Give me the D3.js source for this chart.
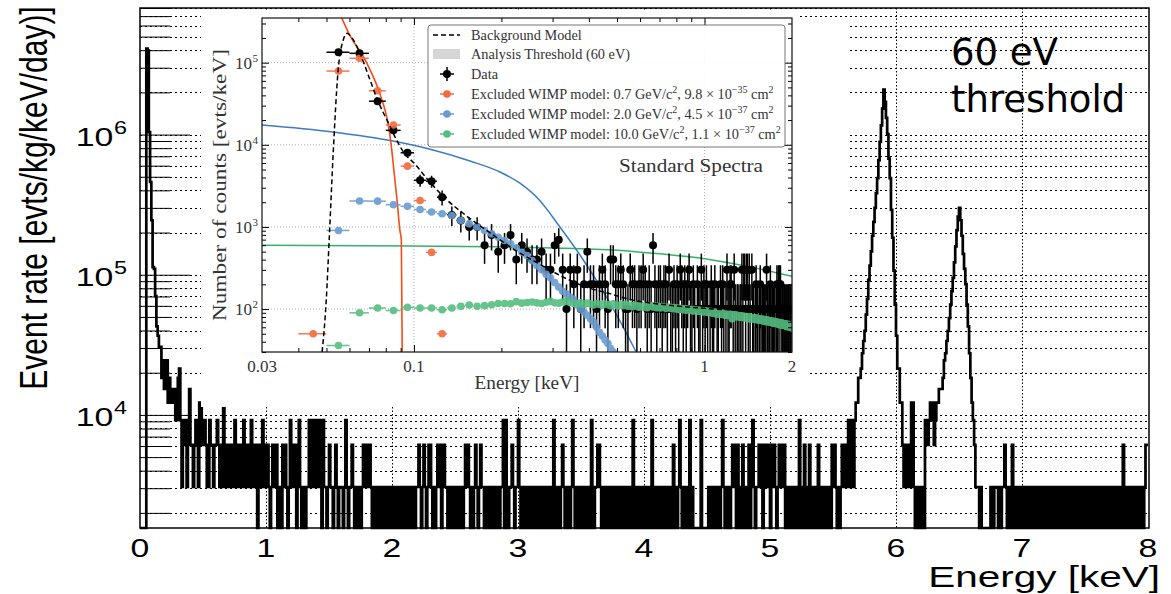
<!DOCTYPE html>
<html>
<head>
<meta charset="utf-8">
<script src="https://cdn.jsdelivr.net/npm/d3@7"></script>
<style>
body { margin: 0; background: #fff; }
svg { display: block; }
</style>
</head>
<body>
<svg id="chart" width="1171" height="594"></svg>
<script>
// ---------- data ----------
var binWidth = 0.01;      // keV
var countRate = 3060;     // evts/kg/keV/day for one count in a bin (main plot)
var countDensity = 100;   // evts/keV for one count in a bin (inset)

// counts per 0.01 keV bin
var thresholdCounts = [0, 0, 0, 0, 0];                                  // 0.00 - 0.04
var noiseCounts = [1340, 1300, 340, 150, 80, 37, 36, 23, 14, 12,
	10, 10, 6, 8, 5, 6, 8, 4, 6, 5, 4, 4, 5, 3, 3];                      // 0.05 - 0.29
var flatCounts = [                                                      // 0.30 - 5.59, one row per 0.1 keV
	"6731323125", "2212321442", "2321132212", "2321216212", "2122131121",
	"2132121231", "1210211312", "1210121120", "1102121013", "1122013101",
	"1011313313", "3131031101", "2110121011", "1013101121", "0110101212",
	"1221011011", "0110110110", "1011010110", "0101101001", "1210121012",
	"2101012210", "2211010101", "1010110121", "2101012101", "2110101011",
	"0101101130", "3101121011", "3101010110", "1010110101", "0110101031",
	"0110121010", "1013101101", "0110101031", "0112210101", "1010110101",
	"0101101010", "1301010110", "1010103101", "0101101010", "1012010131",
	"0101013010", "0000030000", "0101101011", "0131010101", "2120210120",
	"1012013101", "1212012121", "0212101212", "1201010101", "1013010210",
	"1201010120", "1010110102", "1210101212"
];
var kaCounts = [2, 1, 3, 2, 1, 3, 1, 3, 4, 4,                            // 5.60 - 6.09
	6, 6, 7, 9, 11, 13, 17, 22, 30, 38,
	48, 62, 78, 98, 125, 160, 215, 290, 380, 500,
	685, 560, 430, 330, 220, 160, 95, 60, 35, 20,
	12, 7, 7, 4, 4, 2, 1, 2, 1, 2];
var gapCounts = "21441010010103323434";                                  // 6.10 - 6.29
var kbCounts = [2, 3, 4, 4, 5, 5, 5, 6, 8, 9,                            // 6.30 - 6.64
	11, 13, 16, 20, 25, 31, 40, 52, 68, 85,
	98, 80, 62, 46, 36, 28, 20, 14, 9, 6,
	4, 3, 2, 1, 1];
var tailCounts = ["10100",                                               // 6.65 - 7.99
	"0000011011", "1010112101", "1021010110", "1010101101", "0101101010",
	"1101010110", "1010110101", "0110101011", "0101010101", "1011010101",
	"0101011010", "2101010110", "1010110122"];

// inset model points (evts/keV), 0.01 keV bins
var wimpLowStart = 0.04;
var wimpLowRate = [50, 79000, 113000, 45500, 17400, 5500, 2100, 490, 50];
var wimpMidStart = 0.05;
var wimpMidRate = [906, 2070, 2060, 1860, 1780, 1630, 1520, 1450, 1380, 1200,
	1090, 1000, 906, 824, 750, 683, 622, 556, 492, 448,
	389, 338, 300, 265, 240, 210, 185, 165, 152, 140,
	130, 112, 100, 92, 84, 76, 70, 60, 52, 47,
	42, 38, 33, 30];
var wimpHighStart = 0.05;
var wimpHighRate = [36, 90, 103, 96, 105, 103, 103, 98, 103, 108,
	112, 108, 110, 113, 117, 117, 116, 123, 118, 120,
	122, 119, 117, 121, 124, 119, 118, 122, 125, 120,
	117, 115, 119, 114, 118, 116, 112, 117, 114, 111,
	115, 113, 110, 116, 112, 109, 113, 110, 114, 108,
	111, 107, 112, 109, 105, 110, 106, 109, 104, 108,
	110, 106, 109, 104, 108, 103, 107, 105, 102, 106,
	103, 105, 101, 104, 100, 103, 99, 102, 100, 98,
	101, 97, 100, 98, 96, 99, 95, 98, 96, 94,
	97, 95, 93, 96, 92, 95, 94, 91, 94, 92,
	93, 89, 92, 88, 91, 87, 90, 86, 90, 87,
	89, 85, 88, 84, 87, 84, 87, 83, 86, 76,
	86, 82, 85, 81, 84, 80, 83, 80, 83, 79,
	82, 79, 81, 78, 81, 77, 80, 76, 80, 76,
	79, 76, 78, 75, 78, 74, 77, 74, 76, 73,
	76, 73, 75, 72, 75, 71, 74, 70, 74, 70,
	73, 70, 72, 69, 72, 68, 71, 67, 71, 67,
	70, 67, 69, 66, 69, 65, 68, 64, 68, 64,
	67, 64, 66, 63, 66, 62, 65, 61, 65, 61,
	64, 61, 63, 60, 63, 59, 62, 59, 61, 58];

// inset model curves [keV, evts/keV]
var backgroundModel = [[0.0483, 30], [0.0499, 126], [0.0512, 824], [0.0528, 8600], [0.0548, 78000],
	[0.0571, 189000], [0.0589, 228000], [0.0608, 207000], [0.0652, 130000], [0.070, 67000],
	[0.075, 35000], [0.0818, 18200], [0.0872, 11400], [0.0929, 7800], [0.1005, 5900],
	[0.112, 3700], [0.127, 2300], [0.1535, 1320], [0.185, 824], [0.224, 516], [0.27, 355],
	[0.327, 244], [0.394, 184], [0.475, 153], [0.574, 127], [0.7, 115], [1.0, 102], [1.5, 95], [2.0, 90]];
var wimpLowCurve = [[0.054, 500000], [0.06, 220000], [0.0687, 100000], [0.0763, 42000], [0.0815, 18000],
	[0.0835, 10000], [0.0855, 4500], [0.0875, 2100], [0.0895, 900], [0.0905, 700], [0.0912, 20]];
var wimpMidCurve = [[0.03, 17400], [0.0526, 14300], [0.0846, 11100], [0.1163, 8650], [0.156, 6350],
	[0.1977, 4670], [0.231, 3430], [0.27, 2130], [0.318, 998], [0.3786, 419], [0.4623, 136],
	[0.5771, 31.7], [0.624, 18]];
var wimpHighCurve = [[0.03, 600], [0.1, 585], [0.3, 555], [0.5, 520], [0.7, 470], [1.0, 410], [1.5, 315], [2.0, 250]];

var xMainTicks = [0, 1, 2, 3, 4, 5, 6, 7, 8];
var yMainTicks = [1e4, 1e5, 1e6];
var xInsetLabels = [0.03, 0.1, 1, 2];
var yInsetTicks = [1e2, 1e3, 1e4, 1e5];

var legendLabels = [
	['Background Model'],
	['Analysis Threshold (60 eV)'],
	['Data'],
	['Excluded WIMP model: 0.7 GeV/c', '^2', ', 9.8 \u00d7 10', '^\u221235', ' cm', '^2'],
	['Excluded WIMP model: 2.0 GeV/c', '^2', ', 4.5 \u00d7 10', '^\u221237', ' cm', '^2'],
	['Excluded WIMP model: 10.0 GeV/c', '^2', ', 1.1 \u00d7 10', '^\u221237', ' cm', '^2']
];

var orangeLine = '#f64a17', orangeDot = '#f36a3c';
var blueLine = '#3b7cc0', blueDot = '#6a9bcf';
var greenLine = '#35b26a', greenDot = '#55bd80';

function digits(rows) {
	return rows.join('').split('').map(Number);
}

var counts = [].concat(thresholdCounts, noiseCounts, digits(flatCounts), kaCounts,
	digits([gapCounts]), kbCounts, digits(tailCounts));

// ---------- main plot ----------
var svg = d3.select('#chart');
var sans = '"Liberation Sans", Arial, sans-serif';
var serif = '"Liberation Serif", "Times New Roman", serif';

var xMain = d3.scaleLinear().domain([0, 8]).range([140, 1148]);
var yMain = d3.scaleLog().domain([1560, 8.0e6]).range([528, 8]);

var yGridVals = [];
var yMinorVals = [];
[1e3, 1e4, 1e5, 1e6].forEach(function(dec) {
	for (var k = 1; k <= 9; k++) {
		var v = k * dec;
		if (v < 1560 || v > 8.0e6) continue;
		yGridVals.push(v);
		if (k > 1) yMinorVals.push(v);
	}
});

// dotted grid
svg.append('g').selectAll('line.hgrid')
	.data(yGridVals)
	.enter().append('line')
	.attr('x1', 140).attr('x2', 1149)
	.attr('y1', function(d) { return Math.round(yMain(d)) + 0.5; })
	.attr('y2', function(d) { return Math.round(yMain(d)) + 0.5; })
	.attr('stroke', '#000').attr('stroke-width', 1).attr('stroke-dasharray', '2,3');

svg.append('g').selectAll('line.vgrid')
	.data(xMainTicks.slice(1, 8))
	.enter().append('line')
	.attr('x1', function(d) { return Math.round(xMain(d)) + 0.5; })
	.attr('x2', function(d) { return Math.round(xMain(d)) + 0.5; })
	.attr('y1', 8).attr('y2', 528)
	.attr('stroke', '#000').attr('stroke-width', 1).attr('stroke-dasharray', '1.5,2');

// tick marks on the left axis
svg.append('g').attr('transform', 'translate(140,0)')
	.call(d3.axisLeft(yMain).tickValues(yMinorVals).tickSize(-30).tickFormat(''))
	.call(function(g) { g.select('.domain').remove(); });
svg.append('g').attr('transform', 'translate(140,0)')
	.call(d3.axisLeft(yMain).tickValues(yMainTicks).tickSize(-50).tickFormat(''))
	.call(function(g) { g.select('.domain').remove(); });

// histogram
var histPts = counts.map(function(c, i) { return [i * binWidth, c]; });
histPts.push([8, counts[counts.length - 1]]);
var histLine = d3.line()
	.x(function(d) { return xMain(d[0]); })
	.y(function(d) { return d[1] > 0 ? yMain(d[1] * countRate) : 528; })
	.curve(d3.curveStepAfter);
svg.append('path')
	.datum(histPts)
	.attr('d', histLine)
	.attr('fill', 'none')
	.attr('stroke', '#000')
	.attr('stroke-width', 2.7)
	.attr('stroke-linejoin', 'miter');

// frame
svg.append('rect')
	.attr('x', 140).attr('y', 8).attr('width', 1009).attr('height', 520)
	.attr('fill', 'none').attr('stroke', '#000').attr('stroke-width', 1.5);

// tick labels
xMainTicks.forEach(function(v) {
	svg.append('g')
		.attr('transform', 'translate(' + xMain(v) + ',557) scale(1.3,1)')
		.append('text')
		.attr('text-anchor', 'middle')
		.style('font-family', sans).style('font-size', '26px')
		.text(v);
});
yMainTicks.forEach(function(v) {
	var g = svg.append('g')
		.attr('transform', 'translate(127,' + (yMain(v) + 11) + ') scale(1.3,1)')
		.style('font-family', sans);
	g.append('text').attr('x', -10.5).attr('text-anchor', 'end').style('font-size', '26px').text('10');
	g.append('text').attr('x', -10).attr('y', -12).style('font-size', '18px').text(Math.round(Math.log10(v)));
});

// axis titles
svg.append('g')
	.attr('transform', 'translate(1160,587) scale(1.35,1)')
	.append('text')
	.attr('text-anchor', 'end')
	.style('font-family', sans).style('font-size', '30px')
	.text('Energy [keV]');
svg.append('g')
	.attr('transform', 'translate(47,198) scale(1.3,1) rotate(-90)')
	.append('text')
	.attr('text-anchor', 'middle')
	.style('font-family', sans).style('font-size', '30px')
	.text('Event rate [evts/kg/keV/day)]');

// annotation
var note = svg.append('text')
	.style('font-family', '"DejaVu Sans", sans-serif').style('font-size', '37px');
note.append('tspan').attr('x', 951).attr('y', 65).text('60 eV');
note.append('tspan').attr('x', 951).attr('y', 112).text('threshold');

// ---------- inset ----------
// white background of the pasted inset
svg.append('rect').attr('x', 201).attr('y', 10).attr('width', 599).attr('height', 397).attr('fill', '#fff');
svg.append('rect').attr('x', 800).attr('y', 20).attr('width', 47).attr('height', 342).attr('fill', '#fff');
svg.append('rect').attr('x', 800).attr('y', 362).attr('width', 7).attr('height', 45).attr('fill', '#fff');

var xIn = d3.scaleLog().domain([0.03, 2]).range([262, 792]);
var yIn = d3.scaleLog().domain([30, 3.5e5]).range([352, 18]);

var inset = svg.append('g');
svg.append('defs').append('clipPath').attr('id', 'insetClip')
	.append('rect').attr('x', 262).attr('y', 18).attr('width', 530).attr('height', 334);

// grid
inset.append('g').selectAll('line')
	.data(yInsetTicks)
	.enter().append('line')
	.attr('x1', 262).attr('x2', 792)
	.attr('y1', function(d) { return yIn(d); }).attr('y2', function(d) { return yIn(d); })
	.attr('stroke', '#b0b0b0').attr('stroke-width', 1).attr('stroke-dasharray', '1,2');
inset.append('g').selectAll('line')
	.data([0.1, 1])
	.enter().append('line')
	.attr('x1', function(d) { return xIn(d); }).attr('x2', function(d) { return xIn(d); })
	.attr('y1', 18).attr('y2', 352)
	.attr('stroke', '#b0b0b0').attr('stroke-width', 1).attr('stroke-dasharray', '1,2');

var plot = inset.append('g').attr('clip-path', 'url(#insetClip)');

function curveLine(color, width, dash) {
	return function(data) {
		var p = plot.append('path')
			.datum(data)
			.attr('d', d3.line()
				.x(function(d) { return xIn(d[0]); })
				.y(function(d) { return yIn(d[1]); })
				.curve(d3.curveMonotoneX))
			.attr('fill', 'none')
			.attr('stroke', color)
			.attr('stroke-width', width);
		if (dash) p.attr('stroke-dasharray', dash);
	};
}
curveLine(greenLine, 1.5)(wimpHighCurve);
curveLine(blueLine, 1.5)(wimpMidCurve);
curveLine(orangeLine, 1.6)(wimpLowCurve);

// measured data
var dataPts = [];
for (var i = 5; i < 200; i++) {
	if (counts[i] > 0) {
		dataPts.push({lo: i * binWidth, hi: (i + 1) * binWidth, e: (i + 0.5) * binWidth,
			v: counts[i] * countDensity, err: Math.sqrt(counts[i]) * countDensity});
	}
}
var dataG = plot.append('g');
dataG.selectAll('line.ex').data(dataPts).enter().append('line')
	.attr('x1', function(d) { return xIn(d.lo); }).attr('x2', function(d) { return xIn(d.hi); })
	.attr('y1', function(d) { return yIn(d.v); }).attr('y2', function(d) { return yIn(d.v); })
	.attr('stroke', '#000').attr('stroke-width', 1.5);
dataG.selectAll('line.ey').data(dataPts).enter().append('line')
	.attr('x1', function(d) { return xIn(d.e); }).attr('x2', function(d) { return xIn(d.e); })
	.attr('y1', function(d) { return yIn(d.v + d.err); })
	.attr('y2', function(d) { return yIn(Math.max(d.v - d.err, 1)); })
	.attr('stroke', '#000').attr('stroke-width', 1.5);
dataG.selectAll('circle').data(dataPts).enter().append('circle')
	.attr('cx', function(d) { return xIn(d.e); })
	.attr('cy', function(d) { return yIn(d.v); })
	.attr('r', 4).attr('fill', '#000');

function modelPoints(start, rates, color) {
	var pts = rates.map(function(r, j) {
		var lo = start + j * binWidth;
		return {lo: lo, hi: lo + binWidth, e: lo + binWidth / 2, v: r};
	});
	var g = plot.append('g').attr('opacity', 0.9);
	g.selectAll('line').data(pts).enter().append('line')
		.attr('x1', function(d) { return xIn(d.lo); }).attr('x2', function(d) { return xIn(d.hi); })
		.attr('y1', function(d) { return yIn(d.v); }).attr('y2', function(d) { return yIn(d.v); })
		.attr('stroke', color).attr('stroke-width', 1.5);
	g.selectAll('circle').data(pts).enter().append('circle')
		.attr('cx', function(d) { return xIn(d.e); })
		.attr('cy', function(d) { return yIn(d.v); })
		.attr('r', 3.8).attr('fill', color);
}
modelPoints(wimpLowStart, wimpLowRate, orangeDot);
modelPoints(wimpMidStart, wimpMidRate, blueDot);
modelPoints(wimpHighStart, wimpHighRate, greenDot);

curveLine('#000', 1.5, '5,3')(backgroundModel);

// axes ticks, inward on all sides
var xInMinor = [];
var yInMinor = [];
[0.01, 0.1].forEach(function(dec) {
	for (var k = 2; k <= 9; k++) {
		var v = k * dec;
		if (v > 0.03 + 1e-9 && v < 2 - 1e-9 && Math.abs(v - 0.1) > 1e-9) xInMinor.push(v);
	}
});
[10, 100, 1000, 10000, 100000].forEach(function(dec) {
	for (var k = 2; k <= 9; k++) {
		var v = k * dec;
		if (v >= 30 && v <= 3.5e5) yInMinor.push(v);
	}
});
function noDomain(g) { g.select('.domain').remove(); }
inset.append('g').attr('transform', 'translate(0,352)')
	.call(d3.axisBottom(xIn).tickValues([0.1, 1]).tickSize(-7).tickFormat('')).call(noDomain);
inset.append('g').attr('transform', 'translate(0,352)')
	.call(d3.axisBottom(xIn).tickValues(xInMinor).tickSize(-4).tickFormat('')).call(noDomain);
inset.append('g').attr('transform', 'translate(0,18)')
	.call(d3.axisTop(xIn).tickValues([0.1, 1]).tickSize(-7).tickFormat('')).call(noDomain);
inset.append('g').attr('transform', 'translate(0,18)')
	.call(d3.axisTop(xIn).tickValues(xInMinor).tickSize(-4).tickFormat('')).call(noDomain);
inset.append('g').attr('transform', 'translate(262,0)')
	.call(d3.axisLeft(yIn).tickValues(yInsetTicks).tickSize(-7).tickFormat('')).call(noDomain);
inset.append('g').attr('transform', 'translate(262,0)')
	.call(d3.axisLeft(yIn).tickValues(yInMinor).tickSize(-4).tickFormat('')).call(noDomain);
inset.append('g').attr('transform', 'translate(792,0)')
	.call(d3.axisRight(yIn).tickValues(yInsetTicks).tickSize(-7).tickFormat('')).call(noDomain);
inset.append('g').attr('transform', 'translate(792,0)')
	.call(d3.axisRight(yIn).tickValues(yInMinor).tickSize(-4).tickFormat('')).call(noDomain);

inset.append('rect')
	.attr('x', 262).attr('y', 18).attr('width', 530).attr('height', 334)
	.attr('fill', 'none').attr('stroke', '#111').attr('stroke-width', 1.2);

// inset tick labels
xInsetLabels.forEach(function(v) {
	inset.append('text')
		.attr('x', xIn(v)).attr('y', 372)
		.attr('text-anchor', 'middle')
		.style('font-family', serif).style('font-size', '17px').style('fill', '#333')
		.text(v);
});
yInsetTicks.forEach(function(v) {
	var y = yIn(v);
	inset.append('text').attr('x', 252).attr('y', y + 6).attr('text-anchor', 'end')
		.style('font-family', serif).style('font-size', '17px').style('fill', '#333').text('10');
	inset.append('text').attr('x', 252.5).attr('y', y - 1)
		.style('font-family', serif).style('font-size', '11px').style('fill', '#333')
		.text(Math.round(Math.log10(v)));
});

inset.append('text')
	.attr('x', 527).attr('y', 389).attr('text-anchor', 'middle')
	.attr('textLength', 105).attr('lengthAdjust', 'spacingAndGlyphs')
	.style('font-family', serif).style('font-size', '18px').style('fill', '#333')
	.text('Energy [keV]');
inset.append('text')
	.attr('transform', 'translate(226,185) rotate(-90)')
	.attr('text-anchor', 'middle')
	.attr('textLength', 272).attr('lengthAdjust', 'spacingAndGlyphs')
	.style('font-family', serif).style('font-size', '18px').style('fill', '#333')
	.text('Number of counts [evts/keV]');

inset.append('text')
	.attr('x', 619).attr('y', 172)
	.attr('textLength', 144).attr('lengthAdjust', 'spacingAndGlyphs')
	.style('font-family', serif).style('font-size', '19px').style('fill', '#333')
	.text('Standard Spectra');

// legend
var legend = inset.append('g');
legend.append('rect')
	.attr('x', 428).attr('y', 25).attr('width', 357).attr('height', 122).attr('rx', 3)
	.attr('fill', '#fff').attr('fill-opacity', 0.9)
	.attr('stroke', '#777').attr('stroke-width', 1);
var legendY = [35, 54, 74, 94, 114, 134];
var legendColors = [null, null, '#000', orangeDot, blueDot, greenDot];

legend.append('line').attr('x1', 433).attr('x2', 460).attr('y1', legendY[0]).attr('y2', legendY[0])
	.attr('stroke', '#000').attr('stroke-width', 1.5).attr('stroke-dasharray', '5,3');
legend.append('rect').attr('x', 433).attr('y', legendY[1] - 5).attr('width', 27).attr('height', 10)
	.attr('fill', '#d6d6d6');
legend.append('line').attr('x1', 440).attr('x2', 454).attr('y1', legendY[2]).attr('y2', legendY[2])
	.attr('stroke', '#000').attr('stroke-width', 1.5);
legend.append('line').attr('x1', 447).attr('x2', 447).attr('y1', legendY[2] - 7).attr('y2', legendY[2] + 7)
	.attr('stroke', '#000').attr('stroke-width', 1.5);
legend.append('circle').attr('cx', 447).attr('cy', legendY[2]).attr('r', 4).attr('fill', '#000');
[3, 4, 5].forEach(function(k) {
	legend.append('line').attr('x1', 440).attr('x2', 454).attr('y1', legendY[k]).attr('y2', legendY[k])
		.attr('stroke', legendColors[k]).attr('stroke-width', 1.5);
	legend.append('circle').attr('cx', 447).attr('cy', legendY[k]).attr('r', 3.8).attr('fill', legendColors[k]);
});

legendLabels.forEach(function(parts, k) {
	var size = 14.3;
	var t = legend.append('text')
		.attr('x', 471).attr('y', legendY[k] + 5)
		.style('font-family', serif).style('font-size', size + 'px').style('fill', '#333');
	var up = false;
	parts.forEach(function(p) {
		var sup = p.charAt(0) === '^';
		var ts = t.append('tspan').text(sup ? p.slice(1) : p);
		if (sup) {
			ts.style('font-size', (size * 0.7) + 'px');
			if (!up) { ts.attr('dy', -size * 0.4); up = true; }
		} else if (up) {
			ts.attr('dy', size * 0.4);
			up = false;
		}
	});
});
</script>
</body>
</html>
